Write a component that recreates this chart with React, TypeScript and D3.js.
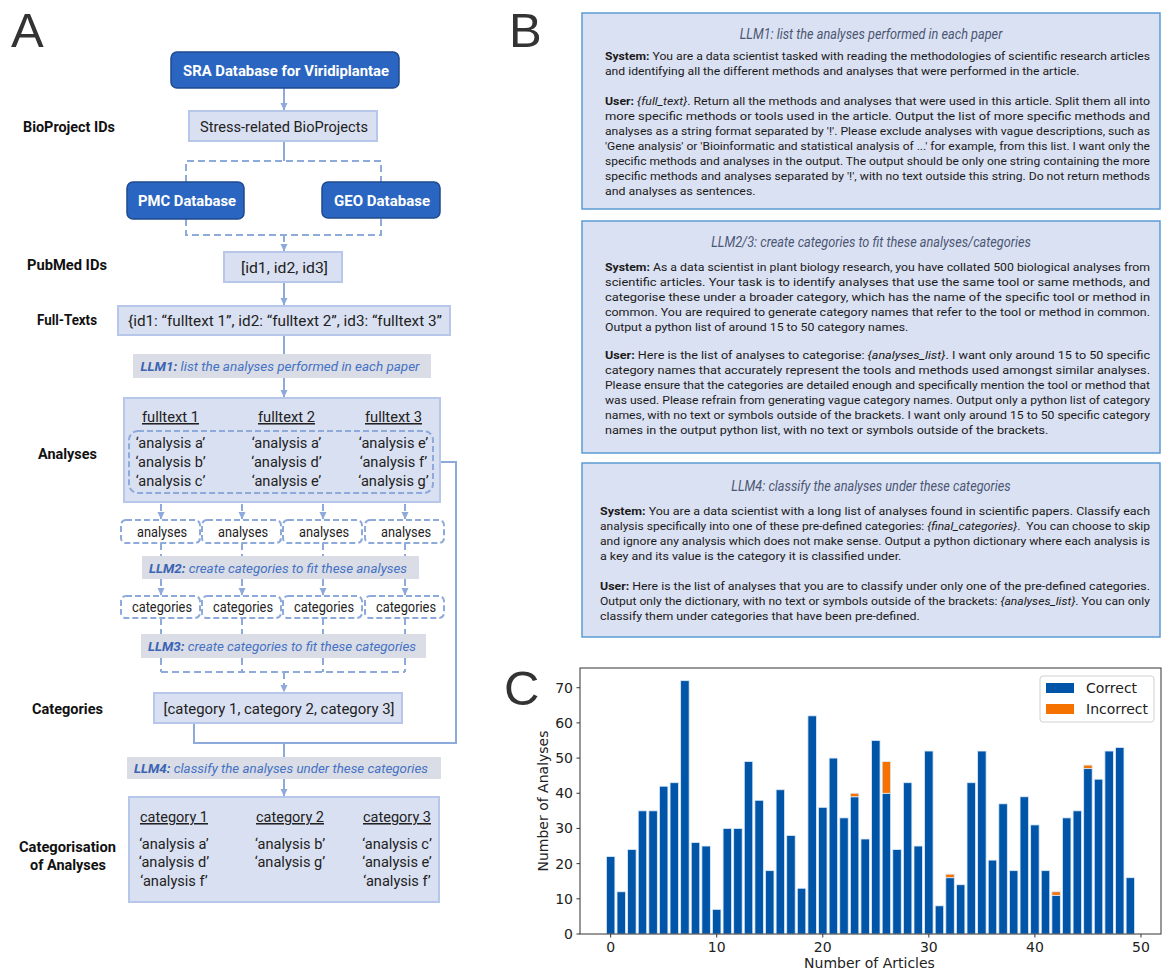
import React from 'react';
import * as d3 from 'd3';

// ---------- panel C data ----------
const correct = [22, 12, 24, 35, 35, 42, 43, 72, 26, 25, 7, 30, 30, 49, 38, 18, 41, 28, 13, 62,
  36, 50, 33, 39, 27, 55, 40, 24, 43, 25, 52, 8, 16, 14, 43, 52, 21, 37, 18, 39,
  31, 18, 11, 33, 35, 47, 44, 52, 53, 16];
const incorrect = [0, 0, 0, 0, 0, 0, 0, 0, 0, 0, 0, 0, 0, 0, 0, 0, 0, 0, 0, 0,
  0, 0, 0, 1, 0, 0, 9, 0, 0, 0, 0, 0, 1, 0, 0, 0, 0, 0, 0, 0,
  0, 0, 1, 0, 0, 1, 0, 0, 0, 0];
const xTicks = [0, 10, 20, 30, 40, 50];
const yTicks = [0, 10, 20, 30, 40, 50, 60, 70];
const legendItems = ['Correct', 'Incorrect'];

// ---------- panel A text ----------
const fulltextHeaders = ['fulltext 1', 'fulltext 2', 'fulltext 3'];
const analysesByText = [
  ['‘analysis a’', '‘analysis b’', '‘analysis c’'],
  ['‘analysis a’', '‘analysis d’', '‘analysis e’'],
  ['‘analysis e’', '‘analysis f’', '‘analysis g’'],
];
const categoryHeaders = ['category 1', 'category 2', 'category 3'];
const analysesByCategory = [
  ['‘analysis a’', '‘analysis d’', '‘analysis f’'],
  ['‘analysis b’', '‘analysis g’'],
  ['‘analysis c’', '‘analysis e’', '‘analysis f’'],
];

// ---------- panel B prompts ----------
const prompt1Title = 'LLM1: list the analyses performed in each paper';
const prompt1System = [
  '**System:** You are a data scientist tasked with reading the methodologies of scientific research articles',
  'and identifying all the different methods and analyses that were performed in the article.',
];
const prompt1User = [
  '**User:** *{full_text}*. Return all the methods and analyses that were used in this article. Split them all into',
  'more specific methods or tools used in the article. Output the list of more specific methods and',
  "analyses as a string format separated by '!'. Please exclude analyses with vague descriptions, such as",
  "'Gene analysis' or 'Bioinformatic and statistical analysis of ...' for example, from this list. I want only the",
  'specific methods and analyses in the output. The output should be only one string containing the more',
  "specific methods and analyses separated by '!', with no text outside this string. Do not return methods",
  'and analyses as sentences.',
];
const prompt2Title = 'LLM2/3: create categories to fit these analyses/categories';
const prompt2System = [
  '**System:** As a data scientist in plant biology research, you have collated 500 biological analyses from',
  'scientific articles. Your task is to identify analyses that use the same tool or same methods, and',
  'categorise these under a broader category, which has the name of the specific tool or method in',
  'common. You are required to generate category names that refer to the tool or method in common.',
  'Output a python list of around 15 to 50 category names.',
];
const prompt2User = [
  '**User:** Here is the list of analyses to categorise: *{analyses_list}*. I want only around 15 to 50 specific',
  'category names that accurately represent the tools and methods used amongst similar analyses.',
  'Please ensure that the categories are detailed enough and specifically mention the tool or method that',
  'was used. Please refrain from generating vague category names. Output only a python list of category',
  'names, with no text or symbols outside of the brackets. I want only around 15 to 50 specific category',
  'names in the output python list, with no text or symbols outside of the brackets.',
];
const prompt3Title = 'LLM4: classify the analyses under these categories';
const prompt3System = [
  '**System:** You are a data scientist with a long list of analyses found in scientific papers. Classify each',
  'analysis specifically into one of these pre-defined categories: *{final_categories}*.  You can choose to skip',
  'and ignore any analysis which does not make sense. Output a python dictionary where each analysis is',
  'a key and its value is the category it is classified under.',
];
const prompt3User = [
  '**User:** Here is the list of analyses that you are to classify under only one of the pre-defined categories.',
  'Output only the dictionary, with no text or symbols outside of the brackets: *{analyses_list}*. You can only',
  'classify them under categories that have been pre-defined.',
];

// ---------- text helpers ----------
const FONT = 'Roboto';
let ctx: CanvasRenderingContext2D | null = null;
function textW(s: string, size: number, bold = false, italic = false, family = FONT) {
  if (!ctx) ctx = document.createElement('canvas').getContext('2d');
  ctx!.font = `${italic ? 'italic ' : ''}${bold ? 'bold ' : ''}${size}px ${family}`;
  return ctx!.measureText(s).width;
}

type Seg = { t: string; b?: boolean; i?: boolean; fill?: string };
function parse(line: string): Seg[] {
  return line.split(/(\*\*[^*]+\*\*|\*[^*]+\*)/).filter(Boolean).map(p =>
    p.startsWith('**') ? { t: p.slice(2, -2), b: true } : p.startsWith('*') ? { t: p.slice(1, -1), i: true } : { t: p });
}
function segsW(segs: Seg[], size: number, italicAll = false) {
  return d3.sum(segs, s => textW(s.t, size, !!s.b, !!s.i || italicAll));
}

function Rich({ x, y, segs, size, fill = '#222', anchor = 'start', length, italic = false, underline = false, weight }: any) {
  return (
    <text x={x} y={y} fontSize={size} fontFamily={FONT} fill={fill} textAnchor={anchor}
      fontStyle={italic ? 'italic' : undefined} fontWeight={weight}
      textDecoration={underline ? 'underline' : undefined}
      textLength={length} lengthAdjust="spacingAndGlyphs" style={{ whiteSpace: 'pre' }}>
      {segs.map((s: Seg, i: number) => (
        <tspan key={i} fontWeight={s.b ? 'bold' : undefined} fontStyle={s.i ? 'italic' : undefined} fill={s.fill}>{s.t}</tspan>
      ))}
    </text>
  );
}

// fitted single-string text, width given or squeezed from natural width
function FT({ x, y, w, sq = 0.9, size = 15, bold = false, italic = false, fill = '#222', anchor = 'middle', underline = false, children }: any) {
  const nat = textW(children, size, bold, italic);
  return (
    <Rich x={x} y={y} segs={[{ t: children }]} size={size} fill={fill} anchor={anchor} italic={italic}
      weight={bold ? 'bold' : undefined} underline={underline} length={w ?? nat * sq} />
  );
}

// ---------- panel A ----------
const LINE = '#8eaadb';
const DARK_FILL = '#2a66c1';
const DARK_STROKE = '#1f4a8f';
const LIGHT_FILL = '#d9e0f1';
const LIGHT_STROKE = '#b6c7ea';
const LLM_FILL = '#dadce6';
const LLM_TEXT = '#4472c4';

function LlmBar({ x, y, w, h, label, rest, tx, tw }: any) {
  const segs = [{ t: label, b: true, fill: '#3a64b4' }, { t: rest }];
  return (
    <g>
      <rect x={x} y={y} width={w} height={h} fill={LLM_FILL} />
      <Rich x={tx} y={y + h / 2 + 5} segs={segs} size={13.5} fill={LLM_TEXT} italic anchor="middle" length={tw} />
    </g>
  );
}

function PanelA() {
  const cx = 284;
  const cols = [161, 242, 323, 405];
  const dash = '7 4';
  const A = { stroke: LINE, strokeWidth: 2, fill: 'none' };
  const D = { ...A, strokeDasharray: dash };
  const smallDash = { stroke: LINE, strokeWidth: 2, fill: '#fff', strokeDasharray: '6 3' };
  const headX = [170.5, 286.5, 393.5];
  const catX = [174, 290, 397];
  const sqA = 168 / textW('Stress-related BioProjects', 15.5);
  return (
    <g>
      <text x={11} y={47} fontSize={49} fontFamily="Liberation Sans" fill="#333">A</text>

      {/* left labels */}
      <FT x={69} y={132} w={92} bold fill="#111">BioProject IDs</FT>
      <FT x={67} y={270} w={80} bold fill="#111">PubMed IDs</FT>
      <FT x={67} y={325} w={60} bold fill="#111">Full-Texts</FT>
      <FT x={67.5} y={459} w={59} bold fill="#111">Analyses</FT>
      <FT x={67.5} y={714} w={71} bold fill="#111">Categories</FT>
      <FT x={67.5} y={852} w={97} bold fill="#111">Categorisation</FT>
      <FT x={68} y={870} w={76} bold fill="#111">of Analyses</FT>

      {/* connectors */}
      <line x1={cx} y1={88} x2={cx} y2={110} {...A} markerEnd="url(#arr)" />
      <line x1={cx} y1={141} x2={cx} y2={161} {...A} />
      <path d={`M186,182 V161 H381 V182`} {...D} />
      <path d={`M186,219 V235 H381 V218`} {...D} />
      <line x1={cx} y1={235} x2={cx} y2={251} {...D} markerEnd="url(#arr)" />
      <line x1={cx} y1={282} x2={cx} y2={305} {...A} markerEnd="url(#arr)" />
      <line x1={cx} y1={335} x2={cx} y2={354} {...A} />
      <line x1={cx} y1={378} x2={cx} y2={397} {...A} markerEnd="url(#arr)" />
      {cols.map(c => (
        <g key={c}>
          <line x1={c} y1={493} x2={c} y2={519} {...D} markerEnd="url(#arr)" />
          <line x1={c} y1={543} x2={c} y2={556} {...D} />
          <line x1={c} y1={579} x2={c} y2={595} {...D} markerEnd="url(#arr)" />
          <line x1={c} y1={618} x2={c} y2={634} {...D} />
          <line x1={c} y1={658} x2={c} y2={672} {...D} />
        </g>
      ))}
      <line x1={cols[0]} y1={672} x2={cols[3]} y2={672} {...D} />
      <line x1={cx} y1={672} x2={cx} y2={692} {...D} markerEnd="url(#arr)" />
      <path d="M433,462 H456 V743 H194 V723" {...A} />
      <line x1={cx} y1={743} x2={cx} y2={757} {...A} />
      <line x1={cx} y1={779} x2={cx} y2={796} {...A} markerEnd="url(#arr)" />

      {/* boxes */}
      <rect x={171} y={52} width={228} height={36} rx={6} fill={DARK_FILL} stroke={DARK_STROKE} strokeWidth={1.5} />
      <FT x={286} y={76} w={206} bold fill="#fff" size={15.5}>SRA Database for Viridiplantae</FT>
      <rect x={189} y={111} width={188} height={30} fill={LIGHT_FILL} stroke={LIGHT_STROKE} strokeWidth={2} />
      <FT x={284} y={131.5} w={168} size={15.5}>Stress-related BioProjects</FT>
      <rect x={127} y={182} width={117} height={37} rx={6} fill={DARK_FILL} stroke={DARK_STROKE} strokeWidth={1.5} />
      <FT x={187} y={206} w={98} bold fill="#fff" size={15.5}>PMC Database</FT>
      <rect x={322} y={182} width={118} height={36} rx={6} fill={DARK_FILL} stroke={DARK_STROKE} strokeWidth={1.5} />
      <FT x={382} y={205.5} w={96} bold fill="#fff" size={15.5}>GEO Database</FT>
      <rect x={224} y={252} width={118} height={30} fill={LIGHT_FILL} stroke={LIGHT_STROKE} strokeWidth={2} />
      <FT x={284.5} y={272.5} w={87} size={15.5}>[id1, id2, id3]</FT>
      <rect x={118} y={306} width={332} height={29} fill={LIGHT_FILL} stroke={LIGHT_STROKE} strokeWidth={2} />
      <FT x={285} y={326} w={314} size={15.5}>{'{id1: “fulltext 1”, id2: “fulltext 2”, id3: “fulltext 3”'}</FT>

      <LlmBar x={133} y={354} w={298} h={24} label="LLM1:" rest=" list the analyses performed in each paper" tx={280} tw={279} />

      <rect x={124} y={398} width={316} height={104} fill={LIGHT_FILL} stroke={LIGHT_STROKE} strokeWidth={2} />
      {fulltextHeaders.map((t, i) => (
        <FT key={t} x={headX[i]} y={422} w={57} underline size={15.5}>{t}</FT>
      ))}
      <rect x={129} y={431} width={304} height={62} rx={9} {...D} strokeDasharray="6 3" />
      {analysesByText.map((col, i) => col.map((t, j) => (
        <FT key={i + '-' + j} x={headX[i]} y={448 + j * 19} sq={sqA} size={15.5}>{t}</FT>
      )))}

      {cols.map(c => (
        <g key={'s' + c}>
          <rect x={c - 40} y={520} width={79} height={23} rx={5} {...smallDash} />
          <FT x={c + 1} y={536.5} w={50} size={14}>analyses</FT>
          <rect x={c - 40} y={596} width={79} height={22} rx={5} {...smallDash} />
          <FT x={c + 1} y={612} w={60} size={14}>categories</FT>
        </g>
      ))}
      <LlmBar x={142} y={556} w={277} h={23} label="LLM2:" rest=" create categories to fit these analyses" tx={278} tw={258} />
      <LlmBar x={141} y={634} w={285} h={24} label="LLM3:" rest=" create categories to fit these categories" tx={282} tw={268} />

      <rect x={154} y={693} width={248} height={30} fill={LIGHT_FILL} stroke={LIGHT_STROKE} strokeWidth={2} />
      <FT x={279} y={714} w={231} size={15.5}>[category 1, category 2, category 3]</FT>

      <LlmBar x={127} y={757} w={314} h={22} label="LLM4:" rest=" classify the analyses under these categories" tx={281} tw={294} />

      <rect x={129} y={797} width={310} height={105} fill={LIGHT_FILL} stroke={LIGHT_STROKE} strokeWidth={2} />
      {categoryHeaders.map((t, i) => (
        <FT key={t} x={catX[i]} y={822} w={68} underline size={15.5}>{t}</FT>
      ))}
      {analysesByCategory.map((col, i) => col.map((t, j) => (
        <FT key={'c' + i + '-' + j} x={catX[i]} y={848.5 + j * 18.5} sq={sqA} size={15.5}>{t}</FT>
      )))}
    </g>
  );
}

// ---------- panel B ----------
function PromptBox({ y, h, title, titleY, paras, left, right }: any) {
  const size = 11.7;
  const lh = 15;
  return (
    <g>
      <rect x={582} y={y} width={578} height={h} fill="#dae1f2" stroke="#5b9bd5" strokeWidth={1.5} />
      <text x={871} y={titleY + 5} textAnchor="middle" fontFamily={FONT} fontStyle="italic" fontSize={13.8}
        fill="#4b5672" textLength={textW(title, 13.8, false, true) * 0.92} lengthAdjust="spacingAndGlyphs">{title}</text>
      {paras.map((p: any, pi: number) => {
        const first = parse(p.lines[0]);
        const ratio = (right - left) / segsW(first, size);
        return p.lines.map((ln: string, li: number) => {
          const segs = parse(ln);
          const last = li === p.lines.length - 1;
          const len = last ? segsW(segs, size) * ratio : right - left;
          return <Rich key={pi + '-' + li} x={left} y={p.y + li * lh + 4} segs={segs} size={size} fill="#1a1a1a" length={len} />;
        });
      })}
    </g>
  );
}

function PanelB() {
  return (
    <g>
      <text x={509} y={47} fontSize={49} fontFamily="Liberation Sans" fill="#333">B</text>
      <PromptBox y={13} h={196} title={prompt1Title} titleY={34} left={605} right={1150}
        paras={[{ y: 56, lines: prompt1System }, { y: 101, lines: prompt1User }]} />
      <PromptBox y={221} h={232} title={prompt2Title} titleY={242} left={605} right={1150}
        paras={[{ y: 267, lines: prompt2System }, { y: 355, lines: prompt2User }]} />
      <PromptBox y={463} h={174} title={prompt3Title} titleY={486} left={600} right={1150}
        paras={[{ y: 511, lines: prompt3System }, { y: 586, lines: prompt3User }]} />
    </g>
  );
}

// ---------- panel C ----------
const BLUE = '#0055a8';
const ORANGE = '#f57200';

function PanelC() {
  const left = 580, right = 1161, top = 668, bottom = 934;
  const x = d3.scaleLinear().domain([-2.89, 51.89]).range([left, right]);
  const y = d3.scaleLinear().domain([0, 75.6]).range([bottom, top]);
  const bw = x(0.8) - x(0);
  const font = 'DejaVu Sans';
  return (
    <g>
      <text x={504} y={705} fontSize={49} fontFamily="Liberation Sans" fill="#333">C</text>
      {correct.map((v, i) => (
        <g key={i}>
          <rect x={x(i) - bw / 2} y={y(v)} width={bw} height={y(0) - y(v)} fill={BLUE} stroke="#dceaf8" strokeWidth={0.8} />
          {incorrect[i] > 0 && (
            <rect x={x(i) - bw / 2} y={y(v + incorrect[i])} width={bw} height={y(v) - y(v + incorrect[i])}
              fill={ORANGE} stroke="#dceaf8" strokeWidth={0.8} />
          )}
        </g>
      ))}
      <rect x={left} y={top} width={right - left} height={bottom - top} fill="none" stroke="#333" strokeWidth={1} />
      {xTicks.map(t => (
        <g key={'x' + t}>
          <line x1={x(t)} x2={x(t)} y1={bottom} y2={bottom + 3.5} stroke="#333" />
          <text x={x(t)} y={952} textAnchor="middle" fontFamily={font} fontSize={14} fill="#222">{t}</text>
        </g>
      ))}
      {yTicks.map(t => (
        <g key={'y' + t}>
          <line x1={left - 3.5} x2={left} y1={y(t)} y2={y(t)} stroke="#333" />
          <text x={573} y={y(t) + 5} textAnchor="end" fontFamily={font} fontSize={14} fill="#222">{t}</text>
        </g>
      ))}
      <text x={(left + right) / 2 - 1} y={968} textAnchor="middle" fontFamily={font} fontSize={14} fill="#222">Number of Articles</text>
      <text transform={`translate(548,${(top + bottom) / 2}) rotate(-90)`} textAnchor="middle" fontFamily={font} fontSize={14} fill="#222">Number of Analyses</text>
      <rect x={1040} y={676} width={114} height={46} rx={3} fill="#fff" fillOpacity={0.8} stroke="#d0d0d0" />
      {legendItems.map((t, i) => (
        <g key={t}>
          <rect x={1046} y={683 + i * 21} width={28} height={10} fill={i === 0 ? BLUE : ORANGE} />
          <text x={1086} y={693 + i * 21} fontFamily={font} fontSize={14} fill="#222">{t}</text>
        </g>
      ))}
    </g>
  );
}

export default function App() {
  return (
    <div style={{ position: 'absolute', left: 0, top: 0 }}>
      <svg width={1162} height={970} style={{ display: 'block', background: '#fff' }}>
        <defs>
          <marker id="arr" markerUnits="userSpaceOnUse" markerWidth={8} markerHeight={8} refX={7} refY={4} orient="auto">
            <path d="M0,0.5 L7.5,4 L0,7.5 z" fill={LINE} />
          </marker>
        </defs>
        <PanelA />
        <PanelB />
        <PanelC />
      </svg>
    </div>
  );
}
